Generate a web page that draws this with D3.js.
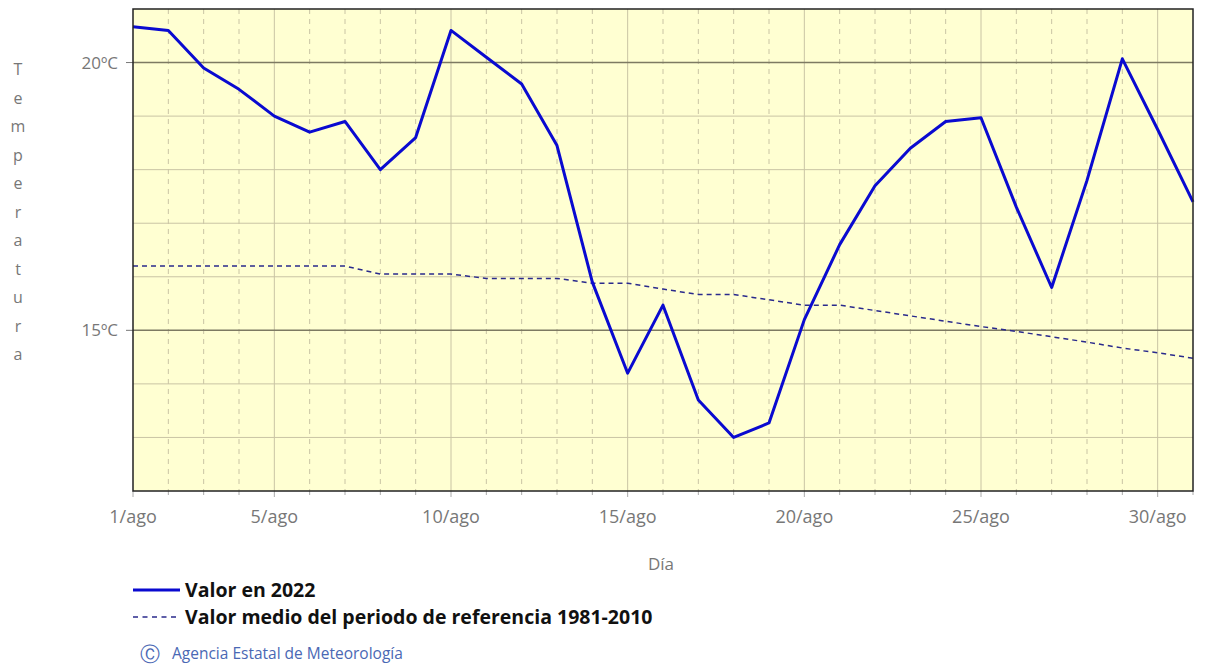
<!DOCTYPE html>
<html>
<head>
<meta charset="utf-8">
<script src="https://cdn.jsdelivr.net/npm/d3@7"></script>
<style>
  body { margin: 0; background: #fff; }
  text { font-family: "Open Sans", "Liberation Sans", sans-serif; }
</style>
</head>
<body>
<script>
//days of the month and their tick labels
var days = d3.range(1, 32);
var dayLabels = ["1/ago", "5/ago", "10/ago", "15/ago", "20/ago", "25/ago", "30/ago"];
var labelDays = [1, 5, 10, 15, 20, 25, 30];

//daily values in 2022
var valores2022 = [20.67, 20.6, 19.9, 19.5, 19.0, 18.7, 18.9, 18.0, 18.6, 20.6,
    20.1, 19.6, 18.45, 15.9, 14.2, 15.47, 13.7, 13.0, 13.27, 15.2,
    16.6, 17.7, 18.4, 18.9, 18.97, 17.3, 15.8, 17.8, 20.07, 18.75, 17.4];

//reference period mean 1981-2010
var valoresMedios = [16.2, 16.2, 16.2, 16.2, 16.2, 16.2, 16.2, 16.05, 16.05, 16.05,
    15.97, 15.97, 15.97, 15.88, 15.88, 15.77, 15.67, 15.67, 15.57, 15.47,
    15.47, 15.37, 15.27, 15.17, 15.07, 14.98, 14.88, 14.78, 14.67, 14.58, 14.48];

var yTicks = [15, 20];
var yLabels = ["15ºC", "20ºC"];
var yTitle = "Temperatura";

var width = 1206, height = 668;
var margin = {left: 133, right: 13, top: 9, bottom: 177};

var svg = d3.select("body").append("svg")
    .attr("width", width)
    .attr("height", height);

var x = d3.scaleLinear()
    .domain([1, 31])
    .range([margin.left, width - margin.right]);

var y = d3.scaleLinear()
    .domain([12, 21])
    .range([height - margin.bottom, margin.top]);

//plot background
svg.append("rect")
    .attr("x", x(1))
    .attr("y", y(21))
    .attr("width", x(31) - x(1))
    .attr("height", y(12) - y(21))
    .attr("fill", "#ffffd2");

//vertical grid: solid every 5 days, dashed otherwise
svg.selectAll(".vgrid")
    .data(days.filter(function(d){ return d > 1 && d < 31; }))
    .enter()
    .append("line")
    .attr("class", "vgrid")
    .attr("x1", function(d){ return x(d); })
    .attr("x2", function(d){ return x(d); })
    .attr("y1", y(21))
    .attr("y2", y(12))
    .attr("stroke", "#c9c4a4")
    .attr("stroke-width", 1)
    .attr("stroke-dasharray", function(d){ return d % 5 === 0 ? null : "5,5"; });

//horizontal grid every degree
svg.selectAll(".hgrid")
    .data(d3.range(13, 21))
    .enter()
    .append("line")
    .attr("class", "hgrid")
    .attr("x1", x(1))
    .attr("x2", x(31))
    .attr("y1", function(d){ return y(d); })
    .attr("y2", function(d){ return y(d); })
    .attr("stroke", function(d){ return d % 5 === 0 ? "#7d7a62" : "#c9c4a4"; })
    .attr("stroke-width", function(d){ return d % 5 === 0 ? 1.5 : 1; });

//x axis ticks
svg.selectAll(".xtick")
    .data(days)
    .enter()
    .append("line")
    .attr("class", "xtick")
    .attr("x1", function(d){ return x(d); })
    .attr("x2", function(d){ return x(d); })
    .attr("y1", y(12))
    .attr("y2", function(d){ return y(12) + (d === 1 || d % 5 === 0 ? 6 : 4); })
    .attr("stroke", "#aaa");

svg.selectAll(".xlabel")
    .data(labelDays)
    .enter()
    .append("text")
    .attr("class", "xlabel")
    .attr("x", function(d){ return x(d); })
    .attr("y", y(12) + 32)
    .attr("text-anchor", "middle")
    .attr("font-size", 18)
    .attr("fill", "#777")
    .text(function(d, i){ return dayLabels[i]; });

//y axis ticks and labels
svg.selectAll(".ytick")
    .data(yTicks)
    .enter()
    .append("line")
    .attr("class", "ytick")
    .attr("x1", x(1) - 7)
    .attr("x2", x(1))
    .attr("y1", function(d){ return y(d); })
    .attr("y2", function(d){ return y(d); })
    .attr("stroke", "#777");

svg.selectAll(".ylabel")
    .data(yTicks)
    .enter()
    .append("text")
    .attr("class", "ylabel")
    .attr("x", x(1) - 15)
    .attr("y", function(d){ return y(d) + 6; })
    .attr("text-anchor", "end")
    .attr("font-size", 17)
    .attr("fill", "#777")
    .text(function(d, i){ return yLabels[i]; });

//vertical y title, one letter per row
svg.selectAll(".ytitle")
    .data(yTitle.split(""))
    .enter()
    .append("text")
    .attr("class", "ytitle")
    .attr("x", 18)
    .attr("y", function(d, i){ return 75 + i * 28.5; })
    .attr("text-anchor", "middle")
    .attr("font-size", 16)
    .attr("fill", "#777")
    .text(function(d){ return d; });

svg.append("text")
    .attr("x", 661)
    .attr("y", 570)
    .attr("text-anchor", "middle")
    .attr("font-size", 17)
    .attr("fill", "#777")
    .text("Día");

var line = d3.line()
    .x(function(d, i){ return x(days[i]); })
    .y(function(d){ return y(d); });

//mean line
svg.append("path")
    .datum(valoresMedios)
    .attr("d", line)
    .attr("fill", "none")
    .attr("stroke", "#2a2a8c")
    .attr("stroke-width", 1.5)
    .attr("stroke-dasharray", "5,4");

//2022 line
svg.append("path")
    .datum(valores2022)
    .attr("d", line)
    .attr("fill", "none")
    .attr("stroke", "#0a0ad0")
    .attr("stroke-width", 3)
    .attr("stroke-linejoin", "round");

//frame
svg.append("rect")
    .attr("x", x(1))
    .attr("y", y(21))
    .attr("width", x(31) - x(1))
    .attr("height", y(12) - y(21))
    .attr("fill", "none")
    .attr("stroke", "#222")
    .attr("stroke-width", 1.5);

//legend
svg.append("line")
    .attr("x1", 133).attr("x2", 180)
    .attr("y1", 590).attr("y2", 590)
    .attr("stroke", "#0a0ad0").attr("stroke-width", 3);
svg.append("text")
    .attr("x", 185).attr("y", 597)
    .attr("font-size", 19.5).attr("font-weight", "bold").attr("fill", "#111")
    .text("Valor en 2022");

svg.append("line")
    .attr("x1", 133).attr("x2", 180)
    .attr("y1", 617).attr("y2", 617)
    .attr("stroke", "#2a2a8c").attr("stroke-width", 1.3)
    .attr("stroke-dasharray", "5,4.5");
svg.append("text")
    .attr("x", 185).attr("y", 624)
    .attr("font-size", 19.5).attr("font-weight", "bold").attr("fill", "#111")
    .text("Valor medio del periodo de referencia 1981-2010");

svg.append("text")
    .attr("x", 140).attr("y", 661)
    .attr("font-size", 20).attr("fill", "#4a68b4")
    .text("\u24B8");
svg.append("text")
    .attr("x", 172).attr("y", 659)
    .attr("font-family", "Liberation Sans, sans-serif")
    .attr("font-size", 15.5).attr("fill", "#4a68b4")
    .text("Agencia Estatal de Meteorología");
</script>
</body>
</html>
